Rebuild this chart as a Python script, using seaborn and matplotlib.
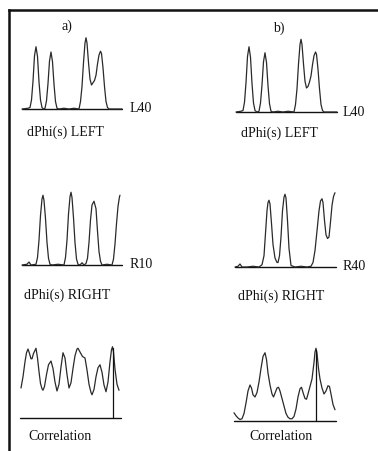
import numpy as np
import pandas as pd
import matplotlib
matplotlib.use("Agg")
import matplotlib.pyplot as plt
import seaborn as sns

# --- dados (lag relativo, amplitude normalizada) ---
left_a_x = [0, 6, 8, 9.5, 11, 12.5, 14, 15.5, 17, 18.5, 20, 21.5, 23, 24.5, 26, 27.5, 29, 30.5, 32, 33.5,
            35, 37, 42, 47, 52, 57, 58.5, 60, 61.5, 63, 64, 65, 66.5, 68, 69.5, 71, 72.5, 74, 75.5, 77,
            78.5, 79.5, 81, 82.5, 84, 85.5, 87, 100]
left_a_y = [0.0, 0.01, 0.02, 0.12, 0.37, 0.71, 0.83, 0.70, 0.36, 0.12, 0.02, 0.0, 0.01, 0.11, 0.34, 0.64, 0.76, 0.63, 0.33, 0.10,
            0.01, 0.0, 0.01, 0.0, 0.01, 0.0, 0.10, 0.30, 0.62, 0.88, 0.95, 0.88, 0.62, 0.40, 0.32, 0.35, 0.38, 0.45, 0.60, 0.72,
            0.77, 0.74, 0.55, 0.30, 0.10, 0.02, 0.0, 0.0]

left_b_x = [0, 5, 7, 8.5, 10, 11.5, 13, 14.5, 16, 17.5, 19, 21, 23, 24.5, 26, 27.5, 29, 30.5, 32, 33.5,
            35, 37, 42, 47, 52, 58, 59.5, 61, 62.5, 64, 65, 66, 67.5, 69, 70.5, 72, 73.5, 75, 76.5, 78,
            79.5, 80.5, 82, 83.5, 85, 86.5, 88, 101]
left_b_y = [0.0, 0.01, 0.02, 0.13, 0.39, 0.74, 0.87, 0.73, 0.38, 0.12, 0.02, 0.0, 0.01, 0.12, 0.36, 0.67, 0.79, 0.66, 0.35, 0.11,
            0.01, 0.0, 0.01, 0.0, 0.01, 0.0, 0.10, 0.31, 0.64, 0.90, 0.97, 0.90, 0.64, 0.41, 0.32, 0.34, 0.40, 0.48, 0.63, 0.75,
            0.80, 0.77, 0.57, 0.31, 0.10, 0.02, 0.0, 0.0]

right_a_x = [0, 5, 7, 9, 14, 15.5, 17, 18.5, 20, 21, 22, 23.5, 25, 26.5, 28, 30, 36, 42, 43.5, 45,
             46.5, 48, 49, 50, 51.5, 53, 54.5, 56, 58, 60, 62, 64, 65.5, 67, 68.5, 70, 72, 74, 75.5, 77,
             78.5, 80, 85, 90, 91.5, 93, 94.5, 96, 97.5, 98]
right_a_y = [0.0, 0.01, 0.04, 0.0, 0.01, 0.10, 0.33, 0.66, 0.88, 0.93, 0.86, 0.62, 0.30, 0.09, 0.01, 0.0, 0.01, 0.0, 0.10, 0.33,
             0.68, 0.91, 0.97, 0.90, 0.63, 0.30, 0.08, 0.01, 0.0, 0.03, 0.0, 0.02, 0.09, 0.30, 0.60, 0.80, 0.85, 0.75, 0.45, 0.18,
             0.05, 0.0, 0.01, 0.0, 0.08, 0.28, 0.55, 0.78, 0.91, 0.93]

right_b_x = [0, 3, 5, 7, 12, 18, 24, 27, 29, 30.5, 32, 33, 34, 35, 36.5, 38, 40, 42, 43, 44.5,
             46, 47.5, 49, 50, 51, 52.5, 54, 56, 60, 66, 72, 76, 78, 80, 82, 84, 85.5, 87, 88, 89.5,
             91, 92.5, 94, 95.5, 97, 98.5, 100]
right_b_y = [0.0, 0.01, 0.04, 0.0, 0.0, 0.01, 0.0, 0.03, 0.15, 0.45, 0.75, 0.86, 0.89, 0.84, 0.58, 0.30, 0.12, 0.06, 0.06, 0.15,
             0.40, 0.75, 0.93, 0.97, 0.92, 0.62, 0.25, 0.02, 0.0, 0.01, 0.0, 0.01, 0.06, 0.22, 0.48, 0.75, 0.88, 0.91, 0.86, 0.62,
             0.43, 0.38, 0.40, 0.60, 0.82, 0.94, 0.99]

corr_a_x = [1, 3, 5, 6.5, 8, 9.5, 11, 12, 13.5, 16, 17.5, 19, 20.5, 22, 23, 24.5, 26.5, 28.5, 31, 33,
            35, 37, 39, 41, 43, 45, 47, 49, 51, 53, 55, 57, 58, 60, 62.5, 65, 67, 69, 71, 72,
            74, 76, 78, 80, 82, 84, 86, 88, 90, 91.5, 92.5, 93.5, 95, 97, 99]
corr_a_y = [0.40, 0.55, 0.75, 0.87, 0.92, 0.86, 0.79, 0.79, 0.86, 0.93, 0.80, 0.62, 0.46, 0.39, 0.37, 0.42, 0.58, 0.71, 0.76, 0.66,
            0.48, 0.36, 0.45, 0.68, 0.87, 0.80, 0.58, 0.40, 0.47, 0.66, 0.83, 0.92, 0.93, 0.88, 0.82, 0.80, 0.64, 0.45, 0.34, 0.31,
            0.38, 0.55, 0.67, 0.71, 0.61, 0.44, 0.35, 0.48, 0.75, 0.91, 0.95, 0.88, 0.65, 0.45, 0.37]
corr_a_peak = 92.5

corr_b_x = [0, 2, 4, 6, 8, 10, 12, 14, 16, 17.5, 19, 21, 23, 25, 27, 29, 31, 32.5, 34, 36,
            38, 39.5, 41, 43, 44.5, 46, 48, 50, 52, 54, 56, 58, 60, 62, 64, 66, 67.5, 69, 71, 72.5,
            74, 76, 78, 80, 81, 82, 83, 84.5, 86, 88, 90, 92, 94, 95.5, 97, 99, 101]
corr_b_y = [0.11, 0.07, 0.04, 0.02, 0.03, 0.10, 0.24, 0.40, 0.48, 0.44, 0.35, 0.32, 0.38, 0.52, 0.70, 0.86, 0.91, 0.82, 0.64, 0.48,
            0.36, 0.32, 0.37, 0.44, 0.45, 0.40, 0.30, 0.20, 0.10, 0.05, 0.03, 0.03, 0.06, 0.16, 0.32, 0.43, 0.45, 0.38, 0.30, 0.29,
            0.36, 0.46, 0.56, 0.78, 0.92, 0.97, 0.90, 0.70, 0.56, 0.44, 0.36, 0.40, 0.47, 0.46, 0.36, 0.22, 0.15]
corr_b_peak = 81.5

labels_top = ["a)", "b)"]
shift_labels = [["L40", "R10"], ["L40", "R40"]]
row_titles = ["dPhi(s) LEFT", "dPhi(s) RIGHT", "Correlation"]

# --- figura ---
sns.set_style("white")
plt.rcParams["font.family"] = ["Liberation Serif", "DejaVu Serif"]

W, H = 378, 451
fig = plt.figure(figsize=(W / 100, H / 100), dpi=100)
fig.patch.set_facecolor("white")

# moldura (só esquerda e topo, como no original digitalizado)
frame = fig.add_axes([9 / W, -0.01, 1, 1 - 10 / H + 0.01])
frame.set_xticks([]); frame.set_yticks([])
frame.patch.set_alpha(0)
for s in ["right", "bottom"]:
    frame.spines[s].set_visible(False)
for s in ["left", "top"]:
    frame.spines[s].set_linewidth(1.8)
    frame.spines[s].set_color("#111111")

line_c = "#2a2a2a"


def painel(left, base, width, x, y, peak=None, height=75):
    ax = fig.add_axes([left / W, 1 - base / H, width / W, height / H])
    ax.set_xlim(0, width)
    ax.set_ylim(0, 1)
    ax.axis("off")
    ax.axhline(0, color="#111111", lw=1.0, clip_on=False)
    df = pd.DataFrame({"lag": x, "amp": y})
    sns.lineplot(data=df, x="lag", y="amp", ax=ax, color=line_c, lw=0.9,
                 estimator=None, sort=False, legend=False)
    for ln in ax.lines:
        ln.set_clip_on(False)
    if peak is not None:
        ax.axvline(peak, ymin=0, ymax=max(y) * 0.98, color="#111111", lw=0.9)
    return ax


painel(22, 109, 100, left_a_x, left_a_y)
painel(236, 112, 101, left_b_x, left_b_y)
painel(22, 265, 100, right_a_x, right_a_y)
painel(235, 267, 101, right_b_x, right_b_y)
painel(20, 418, 101, corr_a_x, corr_a_y, corr_a_peak)
painel(234, 421, 102, corr_b_x, corr_b_y, corr_b_peak)


def txt(x, y, s, ha="left"):
    fig.text(x / W, 1 - y / H, s, ha=ha, va="center", fontsize=10, color="#111111")


txt(67, 26, labels_top[0], "center")
txt(279, 28, labels_top[1], "center")
txt(130, 109, shift_labels[0][0])
txt(343, 112, shift_labels[1][0])
txt(130, 265, shift_labels[0][1])
txt(343, 267, shift_labels[1][1])
txt(65, 132, row_titles[0], "center")
txt(279, 133, row_titles[0], "center")
txt(67, 295, row_titles[1], "center")
txt(281, 296, row_titles[1], "center")
txt(60, 437, row_titles[2], "center")
txt(281, 437, row_titles[2], "center")

fig.savefig("out.png", dpi=100)
